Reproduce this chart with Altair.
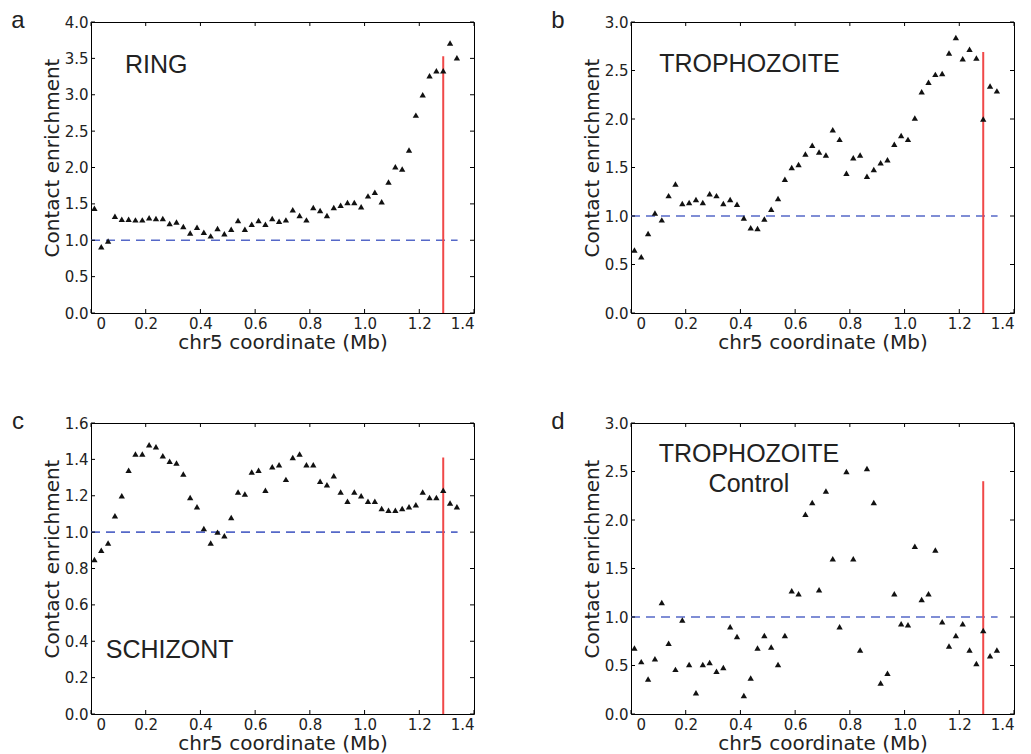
import altair as alt
import pandas as pd

# bin centres along chr5 (Mb)
x_mb = [0.0125, 0.0375, 0.0625, 0.0875, 0.1125, 0.1375, 0.1625, 0.1875, 0.2125, 0.2375,
        0.2625, 0.2875, 0.3125, 0.3375, 0.3625, 0.3875, 0.4125, 0.4375, 0.4625, 0.4875,
        0.5125, 0.5375, 0.5625, 0.5875, 0.6125, 0.6375, 0.6625, 0.6875, 0.7125, 0.7375,
        0.7625, 0.7875, 0.8125, 0.8375, 0.8625, 0.8875, 0.9125, 0.9375, 0.9625, 0.9875,
        1.0125, 1.0375, 1.0625, 1.0875, 1.1125, 1.1375, 1.1625, 1.1875, 1.2125, 1.2375,
        1.2625, 1.2875, 1.3125, 1.3375]

ring = [1.44, 0.91, 0.99, 1.33, 1.29, 1.29, 1.28, 1.28, 1.31, 1.30,
        1.30, 1.23, 1.25, 1.19, 1.10, 1.18, 1.11, 1.06, 1.16, 1.09,
        1.15, 1.27, 1.15, 1.22, 1.27, 1.22, 1.30, 1.26, 1.28, 1.42,
        1.34, 1.28, 1.45, 1.41, 1.34, 1.45, 1.48, 1.52, 1.52, 1.46,
        1.61, 1.66, 1.53, 1.80, 2.01, 1.98, 2.24, 2.72, 3.00, 3.26,
        3.33, 3.33, 3.71, 3.51]

trophozoite = [0.65, 0.58, 0.82, 1.03, 0.96, 1.21, 1.33, 1.13, 1.14, 1.17,
               1.14, 1.23, 1.21, 1.13, 1.17, 1.12, 0.98, 0.88, 0.87, 0.97,
               1.07, 1.18, 1.38, 1.50, 1.53, 1.64, 1.73, 1.66, 1.63, 1.89,
               1.79, 1.44, 1.60, 1.63, 1.41, 1.48, 1.55, 1.58, 1.74, 1.83,
               1.79, 2.01, 2.28, 2.38, 2.46, 2.47, 2.68, 2.84, 2.62, 2.72,
               2.63, 2.00, 2.34, 2.29]

schizont = [0.85, 0.90, 0.94, 1.09, 1.20, 1.34, 1.43, 1.43, 1.48, 1.47,
            1.42, 1.39, 1.38, 1.32, 1.19, 1.14, 1.02, 0.94, 1.00, 0.98,
            1.08, 1.22, 1.21, 1.33, 1.34, 1.23, 1.36, 1.37, 1.29, 1.41,
            1.43, 1.37, 1.37, 1.28, 1.26, 1.31, 1.22, 1.17, 1.22, 1.20,
            1.17, 1.17, 1.13, 1.12, 1.12, 1.13, 1.14, 1.15, 1.22, 1.19,
            1.19, 1.23, 1.16, 1.14]

control = [0.68, 0.54, 0.36, 0.57, 1.15, 0.73, 0.46, 0.97, 0.51, 0.22,
           0.51, 0.53, 0.44, 0.48, 0.90, 0.80, 0.19, 0.37, 0.68, 0.81,
           0.69, 0.51, 0.81, 1.27, 1.24, 2.06, 2.18, 1.28, 2.30, 1.60,
           0.90, 2.50, 1.60, 0.66, 2.53, 2.18, 0.32, 0.42, 1.24, 0.93,
           0.92, 1.73, 1.18, 1.24, 1.69, 0.95, 0.70, 0.81, 0.93, 0.66,
           0.52, 0.86, 0.60, 0.66]

x_ticks = [0, 0.2, 0.4, 0.6, 0.8, 1.0, 1.2, 1.4]
y_ticks_a = [0, 0.5, 1.0, 1.5, 2.0, 2.5, 3.0, 3.5, 4.0]
y_ticks_b = [0, 0.5, 1.0, 1.5, 2.0, 2.5, 3.0]
y_ticks_c = [0, 0.2, 0.4, 0.6, 0.8, 1.0, 1.2, 1.4, 1.6]

centromere_x = 1.2875
baseline_end = 1.34

panels = [
    dict(letter="a", values=ring, ymax=4.0, yticks=y_ticks_a, red_top=3.53,
         labels=[("RING", 0.124, 3.30, "left")]),
    dict(letter="b", values=trophozoite, ymax=3.0, yticks=y_ticks_b, red_top=2.69,
         labels=[("TROPHOZOITE", 0.103, 2.48, "left")]),
    dict(letter="c", values=schizont, ymax=1.6, yticks=y_ticks_c, red_top=1.41,
         labels=[("SCHIZONT", 0.054, 0.31, "left")]),
    dict(letter="d", values=control, ymax=3.0, yticks=y_ticks_b, red_top=2.40,
         labels=[("TROPHOZOITE", 0.431, 2.60, "center"), ("Control", 0.431, 2.285, "center")]),
]

W, H = 383, 291
TICK = 4


def make_panel(p):
    xs = alt.Scale(domain=[0, 1.4], nice=False, zero=False)
    ys = alt.Scale(domain=[0, p["ymax"]], nice=False)
    xaxis = alt.Axis(values=x_ticks, title="chr5 coordinate (Mb)",
                     labelExpr="datum.value == 0 ? '0' : format(datum.value, '.1f')",
                     labelOffset={"condition": {"test": "datum.value == 0", "value": 5}, "value": 0},
                     ticks=False, tickSize=0, domain=False, grid=False, labelPadding=3,
                     titleX=W / 2, titleY=35, titleAlign="center", titleBaseline="alphabetic")
    yaxis = alt.Axis(values=p["yticks"], title="Contact enrichment", format=".1f",
                     ticks=False, tickSize=0, domain=False, grid=False, labelPadding=3,
                     titleX=-33, titleY=H / 2 - 10, titleAngle=270, titleAlign="center",
                     titleBaseline="alphabetic")
    X = lambda f: alt.X(f, type="quantitative", scale=xs, axis=xaxis)
    Y = lambda f: alt.Y(f, type="quantitative", scale=ys, axis=yaxis)

    pts = alt.Chart(pd.DataFrame({"x": x_mb, "y": p["values"]})).mark_point(
        shape="triangle-up", filled=True, size=40, color="#111111", opacity=1
    ).encode(x=X("x"), y=Y("y"))

    dashed = alt.Chart(pd.DataFrame({"x": [0.0], "x2": [baseline_end], "y": [1.0]})).mark_rule(
        color="#5568c8", strokeWidth=1.6, strokeDash=[9, 6]
    ).encode(x=X("x"), x2="x2:Q", y=Y("y"))

    red = alt.Chart(pd.DataFrame({"x": [centromere_x], "y": [0.0], "y2": [p["red_top"]]})).mark_rule(
        color="#f04848", strokeWidth=2
    ).encode(x=X("x"), y=Y("y"), y2="y2:Q")

    xt = pd.DataFrame({"x": x_ticks})
    yt = pd.DataFrame({"y": p["yticks"]})
    tick_style = dict(color="black", strokeWidth=1)
    t_bottom = alt.Chart(xt).mark_rule(**tick_style).encode(
        x=X("x"), y=alt.value(H), y2=alt.value(H - TICK))
    t_top = alt.Chart(xt).mark_rule(**tick_style).encode(
        x=X("x"), y=alt.value(0), y2=alt.value(TICK))
    t_left = alt.Chart(yt).mark_rule(**tick_style).encode(
        y=Y("y"), x=alt.value(0), x2=alt.value(TICK))
    t_right = alt.Chart(yt).mark_rule(**tick_style).encode(
        y=Y("y"), x=alt.value(W), x2=alt.value(W - TICK))

    layers = [dashed, red, t_bottom, t_top, t_left, t_right, pts]
    for text, lx, ly, align in p["labels"]:
        lab = alt.Chart(pd.DataFrame({"x": [lx], "y": [ly], "t": [text]})).mark_text(
            font="Liberation Sans", fontSize=25, align=align, baseline="alphabetic", color="#222222"
        ).encode(x=X("x"), y=Y("y"), text="t:N")
        layers.append(lab)

    letter = alt.Chart(pd.DataFrame({"t": [p["letter"]]})).mark_text(
        font="Liberation Sans", fontSize=24, align="center", baseline="alphabetic", color="#222222"
    ).encode(x=alt.value(-73), y=alt.value(6), text="t:N")
    layers.append(letter)

    return alt.layer(*layers).properties(width=W, height=H)


chart = alt.concat(
    *[make_panel(p) for p in panels],
    columns=2, spacing={"row": 110, "column": 157}, bounds="flush",
).properties(
    padding={"left": 10, "top": 8, "right": 5, "bottom": 5},
    background="white",
).configure_view(
    stroke="black", strokeWidth=1
).configure_axis(
    labelFont="DejaVu Sans", labelFontSize=15, labelColor="#222222",
    titleFont="DejaVu Sans", titleFontSize=20, titleFontWeight="normal", titleColor="#222222",
)

chart.save("out.html", embed_options={"renderer": "svg", "actions": False})
